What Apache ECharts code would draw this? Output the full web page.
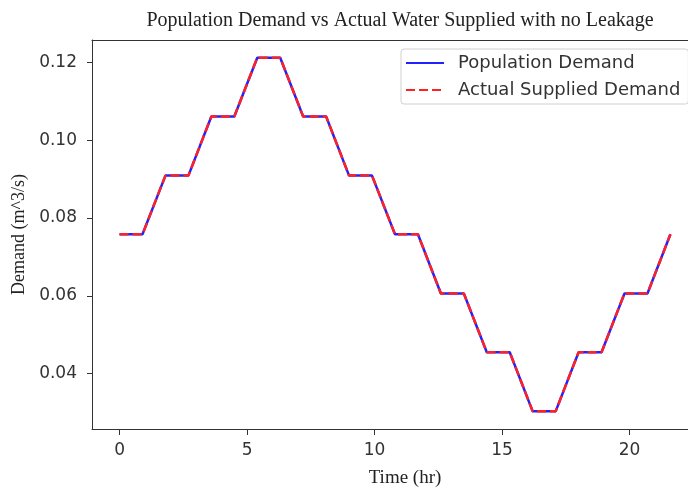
<!DOCTYPE html>
<html>
<head>
<meta charset="utf-8">
<script src="https://cdn.jsdelivr.net/npm/echarts@6/dist/echarts.min.js"></script>
<style>
  html, body { margin: 0; padding: 0; background: #fff; }
  #chart { width: 688px; height: 493px; }
</style>
</head>
<body>
<div id="chart"></div>
<script>
// time (hr)
const hours = [0, 0.9, 1.8, 2.7, 3.6, 4.5, 5.4, 6.3, 7.2, 8.1, 9.0, 9.9, 10.8, 11.7,
  12.6, 13.5, 14.4, 15.3, 16.2, 17.1, 18.0, 18.9, 19.8, 20.7, 21.6]
// demand (m^3/s)
const populationDemand = [0.0758, 0.0758, 0.0909, 0.0909, 0.1061, 0.1061, 0.1212, 0.1212,
  0.1061, 0.1061, 0.0909, 0.0909, 0.0758, 0.0758, 0.0606, 0.0606, 0.0455, 0.0455,
  0.0303, 0.0303, 0.0455, 0.0455, 0.0606, 0.0606, 0.0758]
const suppliedDemand = [0.0758, 0.0758, 0.0909, 0.0909, 0.1061, 0.1061, 0.1212, 0.1212,
  0.1061, 0.1061, 0.0909, 0.0909, 0.0758, 0.0758, 0.0606, 0.0606, 0.0455, 0.0455,
  0.0303, 0.0303, 0.0455, 0.0455, 0.0606, 0.0606, 0.0758]
const xTicks = [0, 5, 10, 15, 20]
const yTicks = [0.04, 0.06, 0.08, 0.10, 0.12]

const pairs = (ys) => hours.map((h, i) => [h, ys[i]])

const serif = '"Liberation Serif", "DejaVu Serif", serif'
const sans = '"DejaVu Sans", sans-serif'

// the original plot is cut off at the right edge, so the x range stops where the picture does
const xMin = -1.08
const xMax = 22.29

const option = {
  backgroundColor: '#fff',
  animation: false,
  title: {
    text: 'Population Demand vs Actual Water Supplied with no Leakage',
    left: 395,
    textAlign: 'center',
    top: 6,
    textStyle: { fontFamily: serif, fontSize: 20, fontWeight: 'normal', color: '#222' },
  },
  legend: {
    orient: 'vertical',
    left: 401,
    top: 49,
    padding: [5, 8, 5, 4],
    itemWidth: 38,
    itemHeight: 14,
    itemGap: 9,
    borderColor: '#d0d0d0',
    borderWidth: 1,
    borderRadius: 3,
    itemStyle: { opacity: 0 },
    textStyle: { fontFamily: sans, fontSize: 18, color: '#333', padding: [0, 0, 0, 9] },
    data: ['Population Demand', 'Actual Supplied Demand'],
  },
  grid: {
    left: 92,
    right: 0,
    top: 40,
    bottom: 61,
  },
  xAxis: [
    {
      type: 'value',
      min: xMin,
      max: xMax,
      name: 'Time (hr)',
      nameLocation: 'middle',
      nameGap: 40,
      nameTextStyle: { fontFamily: serif, fontSize: 19, color: '#222', padding: [0, 0, 0, 30] },
      splitLine: { show: false },
      axisLine: { onZero: false, lineStyle: { color: '#333' } },
      axisTick: { customValues: xTicks, length: 6, lineStyle: { color: '#333' } },
      axisLabel: {
        customValues: xTicks,
        fontFamily: sans, fontSize: 17, color: '#333', margin: 13,
      },
    },
    {
      // top frame line
      type: 'value',
      position: 'top',
      min: xMin,
      max: xMax,
      splitLine: { show: false },
      axisLine: { show: true, onZero: false, lineStyle: { color: '#333' } },
      axisTick: { show: false },
      axisLabel: { show: false },
    },
  ],
  yAxis: {
    type: 'value',
    min: 0.02576,
    max: 0.12575,
    name: 'Demand (m^3/s)',
    nameLocation: 'middle',
    nameGap: 63,
    nameTextStyle: { fontFamily: serif, fontSize: 18, color: '#222' },
    splitLine: { show: false },
    axisLine: { show: true, onZero: false, lineStyle: { color: '#333' } },
    axisTick: { show: true, customValues: yTicks, length: 5, lineStyle: { color: '#333' } },
    axisLabel: {
      customValues: yTicks,
      fontFamily: sans, fontSize: 17, color: '#333', margin: 15,
      formatter: (v) => v.toFixed(2),
    },
  },
  series: [
    {
      name: 'Population Demand',
      type: 'line',
      data: pairs(populationDemand),
      symbol: 'none',
      color: '#2222ff',
      lineStyle: { color: '#2222ff', width: 2.5 },
    },
    {
      name: 'Actual Supplied Demand',
      type: 'line',
      data: pairs(suppliedDemand),
      symbol: 'none',
      color: '#ff2222',
      lineStyle: { color: '#ff2222', width: 2.5, type: [9, 4] },
    },
  ],
}

const chart = echarts.init(document.getElementById('chart'))
chart.setOption(option)
</script>
</body>
</html>
